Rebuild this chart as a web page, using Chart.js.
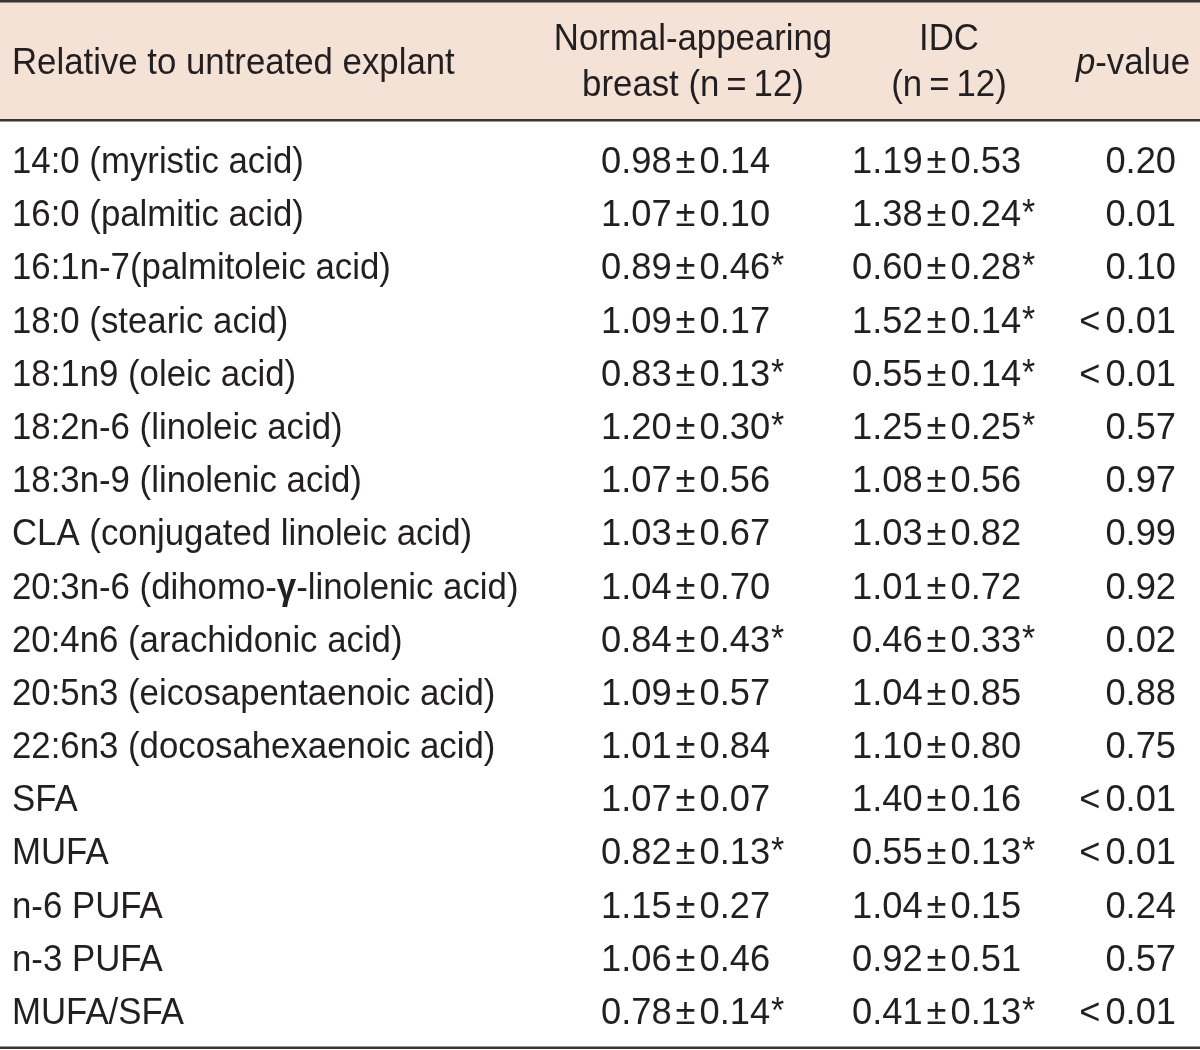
<!DOCTYPE html>
<html>
<head>
<meta charset="utf-8">
<script src="https://cdn.jsdelivr.net/npm/chart.js@4/dist/chart.umd.min.js"></script>
<style>
  html, body { margin: 0; padding: 0; background: #ffffff; }
  #wrap { width: 1200px; height: 1050px; position: relative; }
</style>
</head>
<body>
<div id="wrap"><canvas id="c" width="1200" height="1050"></canvas></div>
<script>
// ---- data ----
const categories = [
  "14:0 (myristic acid)",
  "16:0 (palmitic acid)",
  "16:1n-7(palmitoleic acid)",
  "18:0 (stearic acid)",
  "18:1n9 (oleic acid)",
  "18:2n-6 (linoleic acid)",
  "18:3n-9 (linolenic acid)",
  "CLA (conjugated linoleic acid)",
  "20:3n-6 (dihomo-γ-linolenic acid)",
  "20:4n6 (arachidonic acid)",
  "20:5n3 (eicosapentaenoic acid)",
  "22:6n3 (docosahexaenoic acid)",
  "SFA",
  "MUFA",
  "n-6 PUFA",
  "n-3 PUFA",
  "MUFA/SFA"
];
const normalMean = [0.98, 1.07, 0.89, 1.09, 0.83, 1.20, 1.07, 1.03, 1.04, 0.84, 1.09, 1.01, 1.07, 0.82, 1.15, 1.06, 0.78];
const normalSD   = [0.14, 0.10, 0.46, 0.17, 0.13, 0.30, 0.56, 0.67, 0.70, 0.43, 0.57, 0.84, 0.07, 0.13, 0.27, 0.46, 0.14];
const normalSig  = [false, false, true, false, true, true, false, false, false, true, false, false, false, true, false, false, true];
const idcMean    = [1.19, 1.38, 0.60, 1.52, 0.55, 1.25, 1.08, 1.03, 1.01, 0.46, 1.04, 1.10, 1.40, 0.55, 1.04, 0.92, 0.41];
const idcSD      = [0.53, 0.24, 0.28, 0.14, 0.14, 0.25, 0.56, 0.82, 0.72, 0.33, 0.85, 0.80, 0.16, 0.13, 0.15, 0.51, 0.13];
const idcSig     = [false, true, true, true, true, true, false, false, false, true, false, false, false, true, false, false, true];
const pValues    = ["0.20", "0.01", "0.10", "<0.01", "<0.01", "0.57", "0.97", "0.99", "0.92", "0.02", "0.88", "0.75", "<0.01", "<0.01", "0.24", "0.57", "<0.01"];
const headerFirst = "Relative to untreated explant";
const headerNormal = ["Normal-appearing", "breast (n\u2009=\u200912)"];
const headerIDC = ["IDC", "(n\u2009=\u200912)"];
const headerP = ["p", "-value"];

// ---- style ----
const FONT_FAMILY = '"Liberation Sans", Arial, sans-serif';
const FONT_SIZE = 37;
const STRETCH = 0.94;
const NUM_STRETCH = 0.98;
const TEXT_COLOR = '#231f20';
const HEADER_BG = '#f4e2d7';
const RULE_COLOR = '#3b3431';

const tablePlugin = {
  id: 'tablePlugin',
  afterDraw(chart) {
    const ctx = chart.ctx;
    const xs = chart.scales.x;
    const ys = chart.scales.y;
    const W = chart.width;

    // header band & rules
    ctx.save();
    ctx.fillStyle = HEADER_BG;
    ctx.fillRect(0, 2, W, 118);
    ctx.fillStyle = RULE_COLOR;
    ctx.fillRect(0, 0, W, 2.5);
    ctx.fillRect(0, 119, W, 2.5);
    ctx.fillRect(0, 1046.5, W, 2.5);
    ctx.restore();

    function fontStr(opts) {
      return (opts.style || 'normal') + ' ' + (opts.weight || 'normal') + ' ' + (opts.size || FONT_SIZE) + 'px ' + FONT_FAMILY;
    }
    function txt(str, x, y, align, opts) {
      opts = opts || {};
      const sx = opts.stretch || STRETCH;
      ctx.save();
      ctx.font = fontStr(opts);
      ctx.fillStyle = TEXT_COLOR;
      ctx.textBaseline = 'alphabetic';
      ctx.textAlign = align;
      ctx.translate(x, y);
      ctx.scale(sx, 1);
      ctx.fillText(str, 0, 0);
      const w = ctx.measureText(str).width * sx;
      ctx.restore();
      return w;
    }
    function measure(str, opts) {
      opts = opts || {};
      ctx.save();
      ctx.font = fontStr(opts);
      const w = ctx.measureText(str).width * (opts.stretch || STRETCH);
      ctx.restore();
      return w;
    }
    function label(str, x, y) {
      // Greek gamma is set in bold in the source
      const parts = str.split('γ');
      let cx = x;
      parts.forEach((p, k) => {
        cx += txt(p, cx, y, 'left');
        if (k < parts.length - 1) cx += txt('γ', cx, y, 'left', { weight: 'bold' });
      });
    }
    const num = { stretch: NUM_STRETCH };
    function meanSd(m, s, sig, x, y) {
      let cx = x;
      cx += txt(m.toFixed(2), cx, y, 'left', num);
      cx += 4;
      cx += txt('\u00b1', cx, y, 'left', num);
      cx += 4;
      cx += txt(s.toFixed(2), cx, y, 'left', num);
      if (sig) txt('*', cx + 1, y - 1, 'left', { size: 36 });
    }

    // column anchors (pixel positions through the x scale)
    const colLabel = xs.getPixelForValue(12);
    const colNormal = xs.getPixelForValue(601);
    const colNormalHead = xs.getPixelForValue(693);
    const colIDC = xs.getPixelForValue(852);
    const colIDCHead = xs.getPixelForValue(949);
    const colP = xs.getPixelForValue(1176);
    const colPHead = xs.getPixelForValue(1190);

    // header
    txt(headerFirst, colLabel, 74, 'left');
    txt(headerNormal[0], colNormalHead, 50, 'center');
    txt(headerNormal[1], colNormalHead, 96, 'center');
    txt(headerIDC[0], colIDCHead, 50, 'center');
    txt(headerIDC[1], colIDCHead, 96, 'center');
    const wv = measure(headerP[1]);
    txt(headerP[1], colPHead, 74, 'right');
    txt(headerP[0], colPHead - wv, 74, 'right', { style: 'italic' });

    // body rows
    categories.forEach((cat, i) => {
      const y = ys.getPixelForValue(i) + 13;
      label(cat, colLabel, y);
      meanSd(normalMean[i], normalSD[i], normalSig[i], colNormal, y);
      meanSd(idcMean[i], idcSD[i], idcSig[i], colIDC, y);
      const p = pValues[i];
      if (p.startsWith('<')) {
        const w = txt(p.slice(1), colP, y, 'right', num);
        txt('<', colP - w - 5, y, 'right', num);
      } else {
        txt(p, colP, y, 'right', num);
      }
    });
  }
};

new Chart(document.getElementById('c'), {
  type: 'scatter',
  data: { labels: categories, datasets: [{ data: [], pointRadius: 0 }] },
  options: {
    responsive: false,
    animation: false,
    events: [],
    layout: { padding: { top: 133.4, bottom: 12.4, left: 0, right: 0 } },
    plugins: { legend: { display: false }, tooltip: { enabled: false }, title: { display: false } },
    scales: {
      x: { type: 'linear', min: 0, max: 1200, display: false },
      y: { type: 'category', labels: categories, offset: true, display: false }
    }
  },
  plugins: [tablePlugin]
});
</script>
</body>
</html>
